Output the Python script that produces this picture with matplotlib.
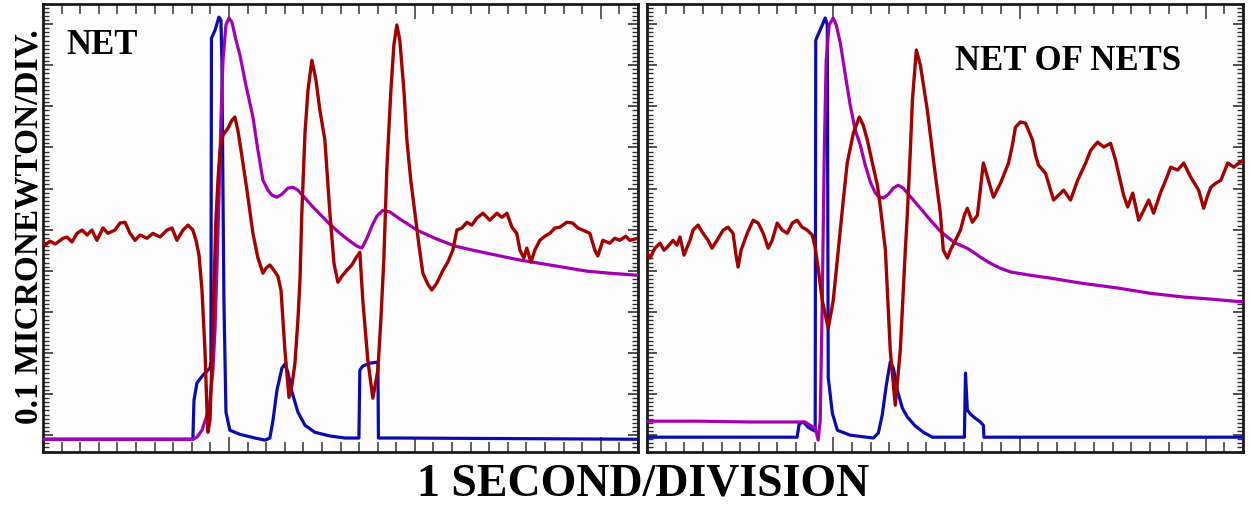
import matplotlib
matplotlib.use("Agg")
import matplotlib.pyplot as plt
from matplotlib.ticker import MultipleLocator

# time axis in divisions, force axis in 0.1 uN divisions
# ---- left panel: NET ----
net_blue_t = [0.00, 8.06, 8.12, 8.28, 8.60, 8.98, 9.03, 9.06, 9.25, 9.46, 9.57, 9.62, 9.73,
              9.84, 10.05, 10.59, 11.40, 11.94, 12.20, 12.37, 12.58, 12.85, 13.01, 13.17,
              13.39, 13.71, 14.09, 14.62, 15.43, 16.24, 16.99, 17.04, 17.20, 17.58, 18.01,
              18.04, 19.19, 32.00]
net_blue_f = [-0.10, -0.10, 0.85, 1.27, 1.46, 1.63, 1.78, 9.66, 9.85, 10.17, 10.10, 9.12, 3.28,
              0.56, 0.12, 0.02, -0.07, -0.12, -0.07, 0.36, 1.09, 1.63, 1.73, 1.53,
              1.05, 0.56, 0.24, 0.07, -0.02, -0.07, -0.07, 1.58, 1.68, 1.75, 1.78,
              -0.07, -0.07, -0.10]

net_mag_t = [0.00, 8.06, 8.28, 8.55, 8.82, 8.98, 9.14, 9.25, 9.35, 9.46, 9.57, 9.68, 9.84,
             10.00, 10.16, 10.38, 10.59, 10.91, 11.29, 11.56, 11.83, 12.10, 12.31, 12.58,
             12.85, 13.17, 13.44, 13.71, 14.09, 14.52, 14.89, 15.43, 15.97, 16.51, 16.88,
             17.15, 17.42, 17.69, 17.96, 18.28, 18.66, 19.19, 20.11, 21.08, 22.15, 23.12,
             24.57, 25.65, 27.26, 29.25, 30.48, 32.00]
net_mag_f = [-0.10, -0.10, -0.05, 0.12, 0.49, 0.85, 1.58, 2.55, 4.01, 5.72, 7.66, 9.12, 9.98,
             10.15, 10.05, 9.61, 9.25, 8.52, 7.74, 6.93, 6.20, 5.96, 5.84, 5.79,
             5.86, 6.01, 6.03, 5.96, 5.77, 5.55, 5.38, 5.13, 4.91, 4.72, 4.60,
             4.55, 4.79, 5.09, 5.33, 5.47, 5.43, 5.26, 4.99, 4.79, 4.60, 4.50,
             4.36, 4.26, 4.14, 3.99, 3.94, 3.89]

net_red_t = [0.00, 0.11, 0.38, 0.65, 0.81, 1.08, 1.29, 1.56, 1.83, 2.10, 2.37, 2.63, 2.90,
             3.23, 3.49, 3.87, 4.14, 4.41, 4.68, 4.95, 5.22, 5.59, 5.91, 6.29, 6.67, 6.94,
             7.20, 7.53, 7.80, 8.06, 8.23, 8.39, 8.55, 8.71, 8.82, 8.87, 8.98, 9.09, 9.19,
             9.30, 9.41, 9.52, 9.68, 9.95, 10.16, 10.32, 10.48, 10.65, 10.97, 11.29, 11.56,
             11.83, 11.99, 12.20, 12.42, 12.63, 12.80, 13.01, 13.23, 13.39, 13.55, 13.71,
             13.82, 13.92, 14.09, 14.25, 14.46, 14.68, 14.89, 15.16, 15.43, 15.65, 15.86,
             16.08, 16.34, 16.61, 16.83, 17.04, 17.20, 17.47, 17.74, 18.01, 18.17, 18.33,
             18.49, 18.71, 18.87, 19.03, 19.19, 19.41, 19.57, 19.78, 20.00, 20.22, 20.43,
             20.70, 20.91, 21.18, 21.51, 21.77, 22.04, 22.26, 22.53, 22.80, 23.06, 23.33,
             23.66, 24.03, 24.41, 24.68, 24.95, 25.22, 25.48, 25.65, 25.86, 26.02, 26.24,
             26.45, 26.72, 26.99, 27.26, 27.53, 27.80, 28.17, 28.49, 28.76, 29.03, 29.41,
             29.68, 29.84, 30.11, 30.48, 30.75, 31.02, 31.34, 31.56, 32.00]
net_red_f = [4.67, 4.62, 4.72, 4.65, 4.70, 4.79, 4.82, 4.70, 4.91, 4.99, 4.87, 4.99, 4.74,
             5.04, 4.91, 4.99, 5.16, 5.18, 4.91, 4.74, 4.87, 4.79, 4.91, 4.82, 4.99, 5.04,
             4.74, 4.99, 5.11, 4.99, 4.74, 4.38, 3.53, 2.07, 0.61, 0.07, 0.36, 1.82, 3.53,
             5.23, 6.20, 6.93, 7.30, 7.47, 7.66, 7.74, 7.42, 6.93, 5.96, 4.91, 4.31,
             3.94, 4.06, 4.14, 4.01, 3.87, 3.53, 2.07, 0.92, 1.22, 1.75, 2.80,
             3.77, 5.40, 7.35, 8.39, 9.12, 8.64, 7.91, 7.18, 5.40, 4.18, 3.72,
             3.87, 4.01, 4.14, 4.31, 4.45, 3.28, 1.82, 0.90, 1.58, 2.80, 4.26,
             6.45, 8.39, 9.49, 9.98, 9.61, 8.39, 7.18, 6.20, 5.40, 4.62, 3.94,
             3.67, 3.53, 3.70, 4.01, 4.21, 4.50, 4.99, 5.04, 5.18, 5.11, 5.28,
             5.40, 5.23, 5.40, 5.30, 5.40, 5.06, 4.91, 4.50, 4.31, 4.55, 4.21,
             4.50, 4.74, 4.84, 4.91, 5.04, 5.06, 5.18, 5.16, 5.04, 4.99, 4.91,
             4.50, 4.36, 4.74, 4.67, 4.79, 4.74, 4.84, 4.74, 4.79]

# ---- right panel: NET OF NETS ----
non_blue_t = [0.00, 8.06, 8.17, 8.39, 8.66, 8.92, 9.03, 9.06, 9.25, 9.57, 9.68, 9.73, 9.95,
              10.22, 10.91, 12.15, 12.42, 12.63, 12.85, 13.06, 13.23, 13.44, 13.71, 13.98,
              14.41, 14.84, 15.32, 17.04, 17.10, 17.20, 17.37, 17.63, 17.90, 18.06, 18.09,
              32.00]
non_blue_f = [-0.05, -0.05, 0.27, 0.32, 0.19, 0.12, 0.10, 9.61, 9.81, 10.15, 9.98, 1.41, 0.54,
              0.12, 0.00, -0.07, 0.05, 0.49, 1.22, 1.78, 1.63, 1.09, 0.66, 0.44,
              0.22, 0.07, -0.05, -0.05, 1.51, 0.61, 0.51, 0.41, 0.32, 0.24, -0.05,
              -0.05]

non_mag_t = [0.00, 2.85, 5.54, 8.49, 8.76, 9.03, 9.19, 9.30, 9.41, 9.52, 9.62, 9.78, 10.00,
             10.16, 10.38, 10.65, 10.91, 11.18, 11.45, 11.72, 11.99, 12.26, 12.47, 12.69,
             12.96, 13.23, 13.49, 13.76, 14.03, 14.30, 14.68, 15.22, 15.75, 16.13, 16.56,
             16.94, 17.26, 17.53, 17.90, 18.44, 18.98, 19.52, 20.59, 21.67, 23.28, 25.27,
             27.04, 28.82, 30.27, 32.00]
non_mag_f = [0.34, 0.34, 0.32, 0.32, 0.24, 0.17, -0.12, 0.36, 3.28, 6.93, 9.12, 9.98, 10.15,
             9.98, 9.54, 8.76, 8.03, 7.42, 7.06, 6.57, 6.16, 5.89, 5.79, 5.77,
             5.86, 6.01, 6.08, 6.01, 5.86, 5.72, 5.52, 5.23, 4.96, 4.82, 4.67,
             4.60, 4.53, 4.45, 4.33, 4.18, 4.06, 3.97, 3.89, 3.82, 3.70, 3.58,
             3.45, 3.36, 3.31, 3.24]

non_red_t = [0.00, 0.16, 0.43, 0.70, 0.91, 1.08, 1.40, 1.61, 1.77, 1.99, 2.15, 2.31, 2.47,
             2.74, 3.01, 3.28, 3.49, 3.76, 4.09, 4.35, 4.62, 4.78, 4.89, 5.05, 5.38, 5.70,
             5.97, 6.24, 6.51, 6.72, 6.99, 7.26, 7.53, 7.80, 8.06, 8.33, 8.60, 8.87, 9.03,
             9.19, 9.41, 9.73, 10.00, 10.27, 10.54, 10.75, 11.08, 11.40, 11.61, 11.83, 12.15,
             12.37, 12.53, 12.80, 13.06, 13.33, 13.60, 13.87, 13.98, 14.14, 14.25, 14.46,
             14.68, 15.05, 15.38, 15.75, 15.91, 16.13, 16.29, 16.56, 16.83, 17.04, 17.20,
             17.47, 17.74, 18.06, 18.33, 18.60, 18.98, 19.41, 19.62, 19.78, 20.05, 20.32,
             20.48, 20.70, 20.86, 21.02, 21.40, 21.67, 21.83, 22.10, 22.37, 22.74, 23.12,
             23.55, 23.82, 24.19, 24.52, 24.89, 25.16, 25.32, 25.59, 25.81, 26.08, 26.40,
             26.67, 26.94, 27.20, 27.58, 27.85, 28.12, 28.49, 28.82, 29.19, 29.46, 29.62,
             29.89, 30.11, 30.27, 30.54, 30.81, 31.18, 31.51, 31.77, 32.00]
non_red_f = [4.43, 4.31, 4.55, 4.67, 4.50, 4.57, 4.74, 4.62, 4.82, 4.38, 4.57, 4.74, 4.99,
             5.11, 4.91, 4.74, 4.55, 4.74, 4.99, 5.06, 4.91, 4.38, 4.09, 4.50, 4.91, 5.23,
             5.16, 4.91, 4.55, 4.74, 5.16, 4.99, 4.91, 5.16, 5.23, 5.06, 4.99, 4.87, 4.57,
             4.06, 3.28, 2.60, 3.28, 4.50, 5.72, 6.62, 7.35, 7.74, 7.54, 7.18, 6.52,
             6.08, 5.55, 4.50, 2.07, 0.73, 2.07, 4.50, 5.40, 6.93, 8.15, 9.37,
             9.00, 7.91, 6.69, 5.40, 4.50, 4.31, 4.50, 4.74, 4.99, 5.35, 5.52,
             5.18, 5.35, 6.62, 6.20, 5.79, 6.13, 6.62, 7.06, 7.49, 7.62, 7.59,
             7.42, 7.18, 6.81, 6.57, 6.37, 5.96, 5.72, 5.84, 5.96, 5.72, 6.20,
             6.62, 6.93, 7.13, 7.01, 7.10, 6.69, 6.37, 5.84, 5.55, 5.89, 5.23,
             5.47, 5.72, 5.40, 5.91, 6.20, 6.52, 6.45, 6.62, 6.28, 6.08, 5.96,
             5.52, 5.84, 6.03, 6.13, 6.20, 6.62, 6.52, 6.62, 6.69]

BLUE = "#0b0bae"
RED = "#a30000"
MAGENTA = "#a300b4"

plt.rcParams["font.family"] = ["Liberation Serif", "DejaVu Serif"]
plt.rcParams["font.weight"] = "bold"

fig = plt.figure(figsize=(12.51, 5.08), dpi=100)
ax1 = fig.add_axes([43 / 1251, 56 / 508, 595 / 1251, 448 / 508])
ax2 = fig.add_axes([647 / 1251, 56 / 508, 596 / 1251, 448 / 508])

panels = [
    (ax1, net_blue_t, net_blue_f, net_mag_t, net_mag_f, net_red_t, net_red_f),
    (ax2, non_blue_t, non_blue_f, non_mag_t, non_mag_f, non_red_t, non_red_f),
]

for ax, bt, bf, mt, mf, rt, rf in panels:
    ax.plot(bt, bf, color=BLUE, lw=2.3, solid_joinstyle="round", zorder=3)
    ax.plot(mt, mf, color=MAGENTA, lw=2.3, solid_joinstyle="round", zorder=4)
    ax.plot(rt, rf, color=RED, lw=2.4, solid_joinstyle="round", zorder=5)
    ax.set_xlim(0, 32)
    ax.set_ylim(-0.41, 10.49)
    ax.set_facecolor("#fdfdfd")
    ax.xaxis.set_major_locator(MultipleLocator(10))
    ax.xaxis.set_minor_locator(MultipleLocator(1))
    ax.yaxis.set_major_locator(MultipleLocator(1))
    ax.yaxis.set_minor_locator(MultipleLocator(0.1))
    ax.tick_params(which="both", direction="in", top=True, right=True,
                   labelbottom=False, labelleft=False, color="#333333")
    ax.tick_params(axis="x", which="major", length=10.5, width=1.1)
    ax.tick_params(axis="x", which="minor", length=7.0, width=1.1)
    ax.tick_params(axis="y", which="major", length=7.0, width=1.2)
    ax.tick_params(axis="y", which="minor", length=4.2, width=1.0)
    for sp in ax.spines.values():
        sp.set_linewidth(2.0)
        sp.set_color("#1a1a1a")

ax1.text(0.040, 0.944, "NET", transform=ax1.transAxes, ha="left", va="top",
         fontsize=25, fontweight="bold")
ax2.text(0.517, 0.908, "NET OF NETS", transform=ax2.transAxes, ha="left", va="top",
         fontsize=25, fontweight="bold")

fig.text(643.5 / 1251, 13 / 508, "1 SECOND/DIVISION", ha="center", va="baseline",
         fontsize=33, fontweight="bold")
fig.text(38 / 1251, 281 / 508, "0.1 MICRONEWTON/DIV.", rotation=90, rotation_mode="anchor",
         ha="center", va="baseline", fontsize=24, fontweight="bold")

fig.savefig("out.png", dpi=100)
